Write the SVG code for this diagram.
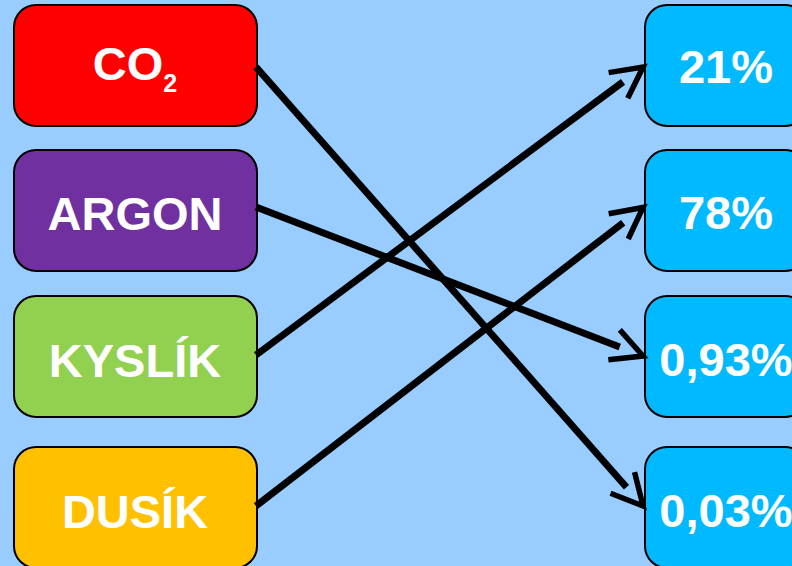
<svg xmlns="http://www.w3.org/2000/svg" width="792" height="566" viewBox="0 0 792 566">
  <style>
    .box { stroke: #000; stroke-width: 2; }
    .lbl { font-family: "Liberation Sans", Arial, sans-serif; font-weight: bold; font-size: 47px; fill: #fff; text-anchor: middle; }
    .pct { fill: #00B9FF; }
    .link { stroke: #000; stroke-width: 7; fill: none; marker-end: url(#open); }
  </style>
  <defs>
    <!-- open chevron head; the shaft stops 25px short of the tip -->
    <marker id="open" markerUnits="userSpaceOnUse" orient="auto" markerWidth="60" markerHeight="60" refX="0" refY="0" viewBox="-30 -30 60 60" overflow="visible">
      <path d="M -6,-16 L 25,0 L -6,16" fill="none" stroke="#000" stroke-width="5.5" stroke-linejoin="miter"/>
    </marker>
  </defs>
  <rect width="792" height="566" fill="#99CCFF"/>

  <g id="co2">
    <rect class="box" x="14" y="5" width="243" height="121" rx="22" fill="#FF0000"/>
    <text class="lbl" x="135" y="80">CO<tspan font-size="25" dy="12">2</tspan></text>
  </g>
  <g id="argon">
    <rect class="box" x="14" y="150" width="243" height="121" rx="22" fill="#7030A0"/>
    <text class="lbl" x="135" y="230">ARGON</text>
  </g>
  <g id="kyslik">
    <rect class="box" x="14" y="296" width="243" height="121" rx="22" fill="#92D050"/>
    <text class="lbl" x="135" y="377">KYSLÍK</text>
  </g>
  <g id="dusik">
    <rect class="box" x="14" y="447" width="243" height="121" rx="22" fill="#FFC000"/>
    <text class="lbl" x="135" y="528">DUSÍK</text>
  </g>

  <g id="p21">
    <rect class="box pct" x="645" y="5" width="162" height="121" rx="22"/>
    <text class="lbl" x="726" y="83">21%</text>
  </g>
  <g id="p78">
    <rect class="box pct" x="645" y="150" width="162" height="121" rx="22"/>
    <text class="lbl" x="726" y="229">78%</text>
  </g>
  <g id="p093">
    <rect class="box pct" x="645" y="296" width="162" height="121" rx="22"/>
    <text class="lbl" x="726" y="376">0,93%</text>
  </g>
  <g id="p003">
    <rect class="box pct" x="645" y="447" width="162" height="121" rx="22"/>
    <text class="lbl" x="726" y="527">0,03%</text>
  </g>

  <g id="connectors">
    <line class="link" x1="256" y1="67" x2="626.5" y2="487.2"/>
    <line class="link" x1="256" y1="207" x2="619.7" y2="347"/>
    <line class="link" x1="256" y1="355" x2="623" y2="81.9"/>
    <line class="link" x1="256" y1="506" x2="623.2" y2="222.7"/>
  </g>
</svg>
